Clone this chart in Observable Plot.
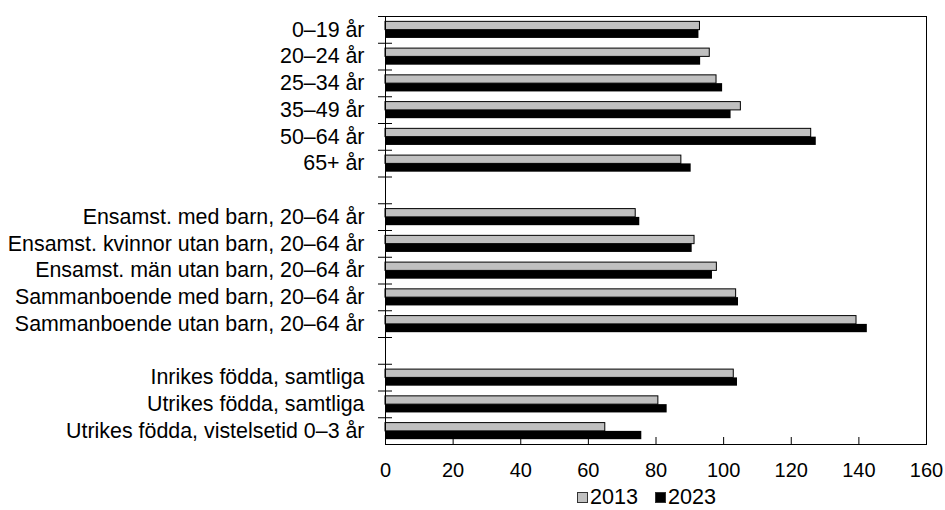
<!DOCTYPE html>
<html><head><meta charset="utf-8">
<script src="https://cdn.jsdelivr.net/npm/d3@7"></script>
<script src="https://cdn.jsdelivr.net/npm/@observablehq/plot@0.6"></script>
<style>
body{margin:0;background:#fff;font-family:"Liberation Sans",Arial,sans-serif;}
#legend{height:26px;font-size:21.6px;display:flex;align-items:center;padding-left:577px;color:#000;}
.sw{width:11px;height:11px;border:1px solid #333;box-sizing:border-box;margin-right:2px;}
.item{display:flex;align-items:center;margin-right:17px;}
</style></head><body>
<div id="chart"></div>
<div id="legend"></div>
<script>
// Categories (blank strings are the spacer rows between groups)
const categories = [
  "0–19 år", "20–24 år", "25–34 år", "35–49 år", "50–64 år", "65+ år",
  " ",
  "Ensamst. med barn, 20–64 år",
  "Ensamst. kvinnor utan barn, 20–64 år",
  "Ensamst. män utan barn, 20–64 år",
  "Sammanboende med barn, 20–64 år",
  "Sammanboende utan barn, 20–64 år",
  "  ",
  "Inrikes födda, samtliga",
  "Utrikes födda, samtliga",
  "Utrikes födda, vistelsetid 0–3 år"
];
const values2013 = [93.0, 95.9, 97.9, 105.1, 125.9, 87.5, null, 74.0, 91.4, 98.0, 103.7, 139.3, null, 103.0, 80.7, 65.0];
const values2023 = [92.7, 93.2, 99.7, 102.2, 127.4, 90.4, null, 75.2, 90.7, 96.7, 104.4, 142.5, null, 104.1, 83.3, 75.8];
const seriesNames = ["2013", "2023"];
const seriesColors = ["#c0c0c0", "#000000"];
const xTicks = [0, 20, 40, 60, 80, 100, 120, 140, 160];

const rows2013 = categories.map((c, i) => ({cat: c, value: values2013[i]})).filter(d => d.value != null);
const rows2023 = categories.map((c, i) => ({cat: c, value: values2023[i]})).filter(d => d.value != null);

const W = 945, H = 484, mT = 16, mB = 40, mL = 385, mR = 19;
const bw = (H - mT - mB) / categories.length;

const chart = Plot.plot({
  width: W, height: H,
  marginLeft: mL, marginRight: mR, marginTop: mT, marginBottom: mB,
  style: {fontFamily: "'Liberation Sans', Arial, sans-serif", fontSize: "21px", color: "#000", background: "#fff"},
  x: {domain: [0, 160], axis: null},
  y: {domain: categories, padding: 0, round: false, axis: null},
  marks: [
    Plot.barX(rows2013, {x: "value", y: "cat", fill: seriesColors[0], stroke: "#000", strokeWidth: 1, insetTop: bw * 0.2, insetBottom: bw * 0.49}),
    Plot.barX(rows2023, {x: "value", y: "cat", fill: seriesColors[1], insetTop: bw * 0.51, insetBottom: bw * 0.18}),
    Plot.frame({stroke: "#000"}),
    Plot.axisY({tickSize: 0, tickPadding: 21, label: null, fontSize: 21.4}),
    Plot.axisY({tickSize: 14, dx: 7, dy: -bw / 2, tickFormat: () => "", label: null}),
    Plot.axisX({ticks: xTicks, tickSize: 0, tickPadding: 18.5, label: null, fontSize: 20}),
    Plot.axisX({ticks: xTicks, tickSize: 7, dy: -7, tickFormat: () => "", label: null})
  ]
});
document.getElementById("chart").appendChild(chart);

const legend = document.getElementById("legend");
seriesNames.forEach((name, i) => {
  const item = document.createElement("div");
  item.className = "item";
  const sw = document.createElement("div");
  sw.className = "sw";
  sw.style.background = seriesColors[i];
  const t = document.createElement("span");
  t.textContent = name;
  item.appendChild(sw); item.appendChild(t);
  legend.appendChild(item);
});
</script>
</body></html>
